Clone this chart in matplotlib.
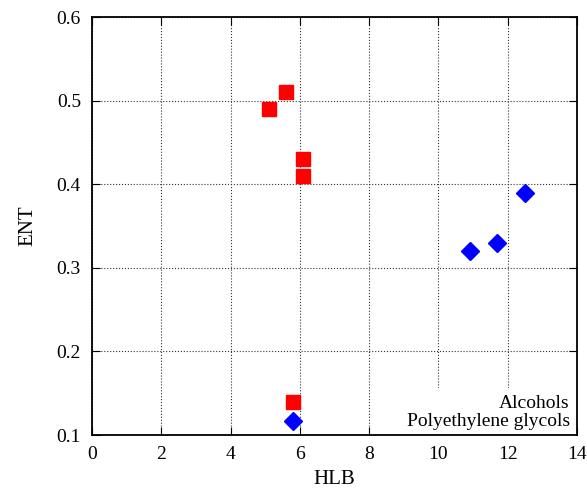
import matplotlib.pyplot as plt

plt.rcParams['font.family'] = ['Liberation Serif', 'DejaVu Serif']

alc_hlb = [5.1, 5.6, 6.1, 6.1, 5.8]
alc_ent = [0.49, 0.51, 0.43, 0.41, 0.14]
peg_hlb = [12.5, 11.7, 10.9, 5.8]
peg_ent = [0.39, 0.33, 0.32, 0.117]
series_names = ['Alcohols', 'Polyethylene glycols']

fig = plt.figure(figsize=(5.87, 4.92), dpi=100)
ax = fig.add_axes([92 / 587, 57 / 492, 485 / 587, 418 / 492])

ax.plot(alc_hlb, alc_ent, 's', color='red', markersize=10, label=series_names[0], zorder=3)
ax.plot(peg_hlb, peg_ent, 'D', color='blue', markersize=9, label=series_names[1], zorder=3)

ax.set_xlim(0, 14)
ax.set_ylim(0.1, 0.6)
ax.set_xticks(range(0, 15, 2))
ax.set_yticks([0.1, 0.2, 0.3, 0.4, 0.5, 0.6])
ax.set_yticklabels(['0.1', '0.2', '0.3', '0.4', '0.5', '0.6'])
ax.grid(True, linestyle=':', color='#333333', linewidth=0.8)
ax.set_axisbelow(True)
ax.tick_params(direction='in', top=True, right=True, labelsize=14, length=6, pad=8)
for s in ax.spines.values():
    s.set_linewidth(1.3)

ax.set_xlabel('HLB', fontsize=15, labelpad=5)
ax.set_ylabel('ENT', fontsize=15, labelpad=14)

# key text, right-aligned like gnuplot, white box hides grid behind it
ax.text(0.985, 0.012, '\n'.join(series_names), transform=ax.transAxes,
        ha='right', va='bottom', multialignment='right', fontsize=14,
        linespacing=1.05, zorder=2,
        bbox=dict(facecolor='white', edgecolor='none', pad=5))

fig.savefig('out.png', dpi=100)
